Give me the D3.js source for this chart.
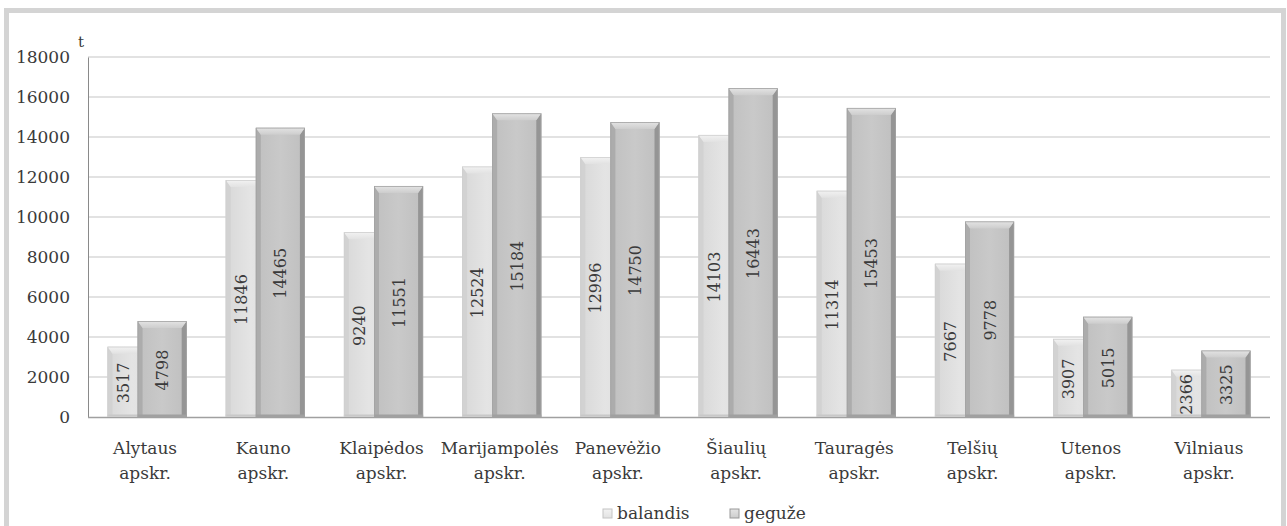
<!DOCTYPE html>
<html>
<head>
<meta charset="utf-8">
<script src="https://cdn.jsdelivr.net/npm/d3@7"></script>
<style>
  html, body { margin: 0; padding: 0; background: #fff; }
  svg text { font-family: "DejaVu Serif", "Liberation Serif", serif; fill: #3a3a3a; }
</style>
</head>
<body>
<svg id="chart" width="1287" height="526"></svg>
<script>
// Data
var categories = ["Alytaus apskr.", "Kauno apskr.", "Klaipėdos apskr.", "Marijampolės apskr.",
  "Panevėžio apskr.", "Šiaulių apskr.", "Tauragės apskr.", "Telšių apskr.",
  "Utenos apskr.", "Vilniaus apskr."];
var balandis = [3517, 11846, 9240, 12524, 12996, 14103, 11314, 7667, 3907, 2366];
var geguze = [4798, 14465, 11551, 15184, 14750, 16443, 15453, 9778, 5015, 3325];
var seriesNames = ["balandis", "geguže"];
var yTicks = [0, 2000, 4000, 6000, 8000, 10000, 12000, 14000, 16000, 18000];

var svg = d3.select("#chart");
// plot area edges (not "top": that name is taken by window.top)
var pLeft = 88, pRight = 1270, pTop = 57, pBottom = 417;

// Frame around the chart
svg.append("rect").attr("x", 6.5).attr("y", 10.5).attr("width", 1277).attr("height", 530)
  .style("fill", "none").style("stroke", "#d4d4d4").style("stroke-width", 5);

var defs = svg.append("defs");
function makeGrad(id, vertical, stops) {
  var g = defs.append("linearGradient").attr("id", id)
    .attr("x1", "0").attr("y1", "0").attr("x2", vertical ? "0" : "1").attr("y2", vertical ? "1" : "0");
  stops.forEach(function (s) { g.append("stop").attr("offset", s[0]).attr("stop-color", s[1]); });
}
makeGrad("gBal", false, [["0%", "#d8d8d8"], ["50%", "#e4e4e4"], ["100%", "#dedede"]]);
makeGrad("gGeg", false, [["0%", "#c0c0c0"], ["50%", "#c9c9c9"], ["100%", "#bfbfbf"]]);
makeGrad("tBal", true, [["0%", "#f2f2f2"], ["100%", "#e2e2e2"]]);
makeGrad("tGeg", true, [["0%", "#e4e4e4"], ["100%", "#cdcdcd"]]);
var sideL = { balandis: "#d2d2d2", "geguže": "#acacac" };
var sideR = { balandis: "#c6c6c6", "geguže": "#959595" };
var botCol = { balandis: "#c8c8c8", "geguže": "#a0a0a0" };

var y = d3.scaleLinear().domain([0, 18000]).range([pBottom, pTop]);
var x0 = d3.scaleBand().domain(categories).range([pLeft, pRight]).paddingInner(0.33).paddingOuter(0.165);
var barW = x0.bandwidth() * 0.62;

// Gridlines
svg.append("g").selectAll("line").data(yTicks.slice(1)).enter().append("line")
  .attr("x1", pLeft).attr("x2", pRight)
  .attr("y1", function (d) { return y(d); }).attr("y2", function (d) { return y(d); })
  .style("stroke", "#d9d9d9").style("stroke-width", 1.5);

// Y axis
var yAxis = svg.append("g").attr("transform", "translate(" + pLeft + ",0)")
  .call(d3.axisLeft(y).tickValues(yTicks).tickSize(0).tickPadding(18).tickFormat(d3.format("d")));
yAxis.select(".domain").style("stroke", "#8a8a8a");
yAxis.selectAll("text").style("font-size", "17px").style("font-family", "DejaVu Serif").style("fill", "#3a3a3a");

svg.append("text").attr("x", 78).attr("y", 47).style("font-size", "15px").text("t");

// X axis baseline
svg.append("line").attr("x1", pLeft).attr("x2", pRight).attr("y1", pBottom + 0.5).attr("y2", pBottom + 0.5)
  .style("stroke", "#a0a0a0").style("stroke-width", 1.5);

// Bevelled bar: body, two side strips, top trapezoid and a dark foot
function drawBar(g, x, w, v, name) {
  var yt = y(v), h = pBottom - yt, b = Math.min(7, h / 2), s = 5;
  var bal = name == "balandis";
  g.append("rect").attr("x", x).attr("y", yt).attr("width", w).attr("height", h)
    .style("fill", bal ? "url(#gBal)" : "url(#gGeg)");
  g.append("polygon")
    .attr("points", [[x, yt], [x + s, yt + b], [x + s, pBottom - 2], [x, pBottom]].join(" "))
    .style("fill", sideL[name]);
  g.append("polygon")
    .attr("points", [[x + w, yt], [x + w - s, yt + b], [x + w - s, pBottom - 2], [x + w, pBottom]].join(" "))
    .style("fill", sideR[name]);
  g.append("polygon")
    .attr("points", [[x, yt], [x + w, yt], [x + w - s, yt + b], [x + s, yt + b]].join(" "))
    .style("fill", bal ? "url(#tBal)" : "url(#tGeg)");
  g.append("rect").attr("x", x).attr("y", pBottom - 2.5).attr("width", w).attr("height", 2.5)
    .style("fill", botCol[name]);
  g.append("rect").attr("x", x + 0.4).attr("y", yt + 0.4).attr("width", w - 0.8).attr("height", h - 0.8)
    .style("fill", "none").style("stroke", bal ? "#cfcfcf" : "#a2a2a2").style("stroke-width", 0.8);
}

var groups = svg.append("g").selectAll("g").data(categories).enter().append("g");
groups.each(function (c, i) {
  var g = d3.select(this);
  var bx = x0(c), gx = x0(c) + x0.bandwidth() - barW;
  drawBar(g, bx, barW, balandis[i], "balandis");
  drawBar(g, gx, barW, geguze[i], "geguže");
  // value labels, rotated, centered in the visible part of each bar
  g.append("text")
    .attr("transform", "translate(" + ((bx + gx) / 2 + 6) + "," + (y(balandis[i] / 2) + 1) + ") rotate(-90)")
    .style("text-anchor", "middle").style("font-size", "16px").text(balandis[i]);
  g.append("text")
    .attr("transform", "translate(" + (gx + barW / 2 + 6) + "," + (y(geguze[i] / 2) + 1) + ") rotate(-90)")
    .style("text-anchor", "middle").style("font-size", "16px").text(geguze[i]);
});

// Category labels (two lines)
var xl = svg.append("g").selectAll("text").data(categories).enter().append("text")
  .attr("x", function (d) { return x0(d) + x0.bandwidth() / 2 - 2; })
  .attr("y", 454).style("text-anchor", "middle").style("font-size", "17px");
xl.each(function (d) {
  var parts = d.split(" ");
  var t = d3.select(this);
  t.append("tspan").attr("x", t.attr("x")).attr("dy", 0).text(parts[0]);
  t.append("tspan").attr("x", t.attr("x")).attr("dy", 25).text(parts[1]);
});

// Legend
var legendX = [603, 730];
var leg = svg.append("g").selectAll("g").data(seriesNames).enter().append("g")
  .attr("transform", function (d, i) { return "translate(" + legendX[i] + ",509)"; });
leg.append("rect").attr("width", 9).attr("height", 9)
  .style("fill", function (d, i) { return i == 0 ? "url(#tBal)" : "url(#tGeg)"; })
  .style("stroke", function (d, i) { return i == 0 ? "#c4c4c4" : "#999"; }).style("stroke-width", 1);
leg.append("text").attr("x", 14).attr("y", 10).style("font-size", "17px").text(function (d) { return d; });
</script>
</body>
</html>
